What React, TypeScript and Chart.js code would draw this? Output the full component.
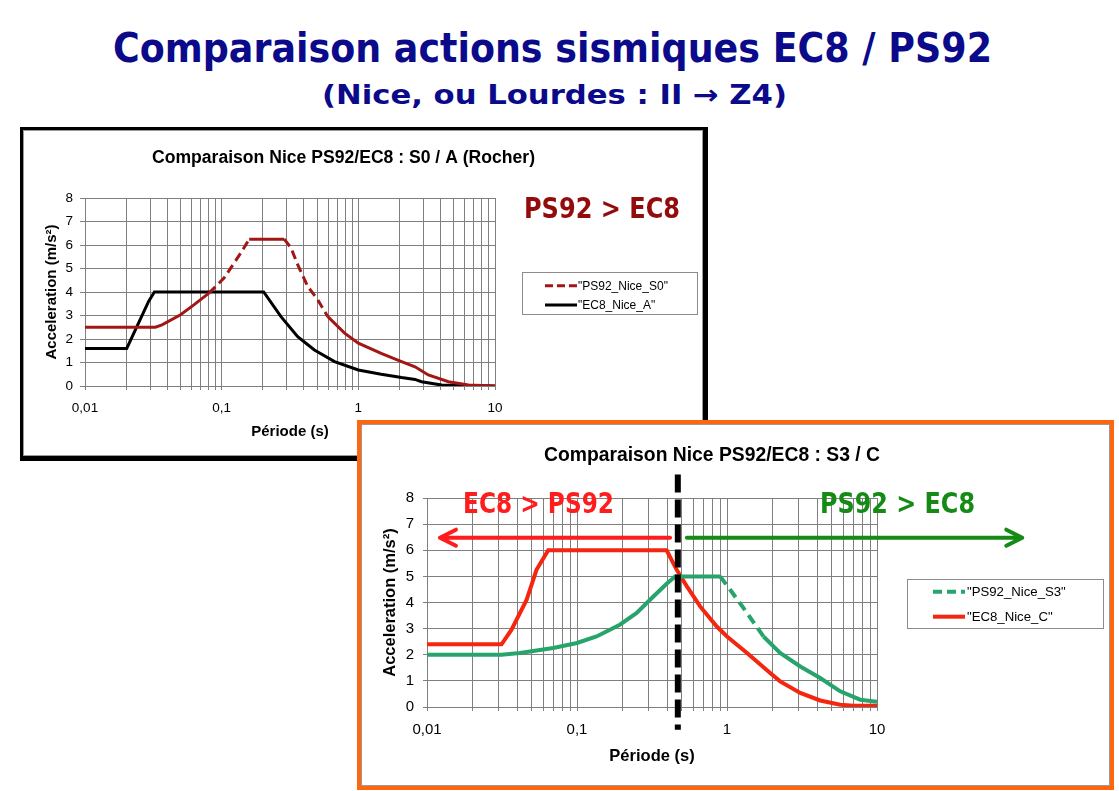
import React, { useEffect, useRef } from 'react';
import { Chart, registerables } from 'chart.js';

Chart.register(...registerables);

// ---------- shared axis data ----------
const xDecades = [0.01, 0.1, 1, 10];
const xTickLabels = ['0,01', '0,1', '1', '10'];
const xMinorSteps = [2, 3, 4, 5, 6, 7, 8, 9];
const yTickValues = [0, 1, 2, 3, 4, 5, 6, 7, 8];
const xAxisTitle = 'Période (s)';
const yAxisTitle = 'Acceleration (m/s²)';

const pageTitle = 'Comparaison actions sismiques EC8 / PS92';
const pageSubtitle = '(Nice, ou Lourdes : II → Z4)';

// ---------- chart 1 : S0 / A ----------
const chart1Title = 'Comparaison Nice PS92/EC8 : S0 / A (Rocher)';
const chart1Labels = ['"PS92_Nice_S0"', '"EC8_Nice_A"'];
const chart1Note = 'PS92 > EC8';
const ps92S0Period = [0.01, 0.0327, 0.0366, 0.05, 0.0626, 0.0807, 0.104, 0.138, 0.159, 0.287, 0.322, 0.36, 0.427, 0.505, 0.598, 0.793, 1.0, 1.47, 2.07, 2.6, 3.25, 4.57, 6.4, 10];
const ps92S0Accel = [2.5, 2.5, 2.6, 3.03, 3.45, 3.95, 4.59, 5.66, 6.25, 6.25, 5.87, 5.16, 4.23, 3.67, 2.95, 2.25, 1.82, 1.39, 1.04, 0.82, 0.47, 0.18, 0.04, 0];
const ec8APeriod = [0.01, 0.0202, 0.0292, 0.0322, 0.203, 0.2716, 0.36, 0.477, 0.67, 1.0, 1.47, 2.07, 2.6, 2.9, 4.07, 10];
const ec8AAccel = [1.6, 1.6, 3.6, 4.0, 4.0, 2.95, 2.1, 1.53, 1.04, 0.68, 0.5, 0.36, 0.28, 0.18, 0.04, 0];

// ---------- chart 2 : S3 / C ----------
const chart2Title = 'Comparaison Nice PS92/EC8 : S3 / C';
const chart2Labels = ['"PS92_Nice_S3"', '"EC8_Nice_C"'];
const chart2NoteLeft = 'EC8 > PS92';
const chart2NoteRight = 'PS92 > EC8';
const ps92S3Period = [0.01, 0.0314, 0.0416, 0.0694, 0.1, 0.135, 0.193, 0.25, 0.323, 0.396, 0.451, 0.9, 1.05, 1.36, 1.75, 2.26, 3.08, 4.18, 5.69, 7.73, 10];
const ps92S3Accel = [2.0, 2.0, 2.07, 2.26, 2.45, 2.7, 3.15, 3.6, 4.23, 4.72, 5.0, 5.0, 4.49, 3.6, 2.7, 2.07, 1.55, 1.11, 0.6, 0.28, 0.2];
const ec8CPeriod = [0.01, 0.0314, 0.0366, 0.0461, 0.0537, 0.0643, 0.396, 0.462, 0.54, 0.662, 0.855, 1.0, 1.36, 1.94, 2.26, 3.08, 4.18, 5.69, 7.0, 10];
const ec8CAccel = [2.4, 2.4, 2.96, 4.1, 5.25, 6.0, 6.0, 5.25, 4.62, 3.85, 3.08, 2.7, 2.07, 1.3, 0.98, 0.54, 0.25, 0.09, 0.05, 0.05];
const boundaryPeriod = 0.47;
const arrowLevel = 6.48;
const redArrowPeriods = [0.417, 0.0122];
const greenArrowPeriods = [0.54, 93];

const FONT = '"Liberation Sans", Arial, sans-serif';
const NOTE_FONT = '"DejaVu Sans", sans-serif';

const gridValues = xDecades.flatMap((d, i) =>
  i === xDecades.length - 1 ? [d] : [d, ...xMinorSteps.map((m) => Number((d * m).toPrecision(4)))]
);

function labelFor(v: number) {
  const i = xDecades.findIndex((d) => Math.abs(d - v) < d * 1e-6);
  return i >= 0 ? xTickLabels[i] : '';
}

function toPoints(xs: number[], ys: number[]) {
  return xs.map((x, i) => ({ x, y: ys[i] }));
}

function inRanges(v: number, ranges: number[][]) {
  return ranges.some(([a, b]) => v >= a && v < b);
}

function fitText(ctx: CanvasRenderingContext2D, text: string, x: number, y: number, width: number, font: string, color: string) {
  ctx.save();
  ctx.font = font;
  ctx.fillStyle = color;
  ctx.textAlign = 'left';
  ctx.textBaseline = 'alphabetic';
  const w = ctx.measureText(text).width;
  ctx.translate(x, y);
  ctx.scale(width / w, 1);
  ctx.fillText(text, 0, 0);
  ctx.restore();
}

const decorPlugin = {
  id: 'decor',
  afterDatasetsDraw(chart: any, _a: any, opts: any) {
    const ctx = chart.ctx as CanvasRenderingContext2D;
    const xs = chart.scales.x;
    const ys = chart.scales.y;
    if (opts.vline) {
      const v = opts.vline;
      const x = xs.getPixelForValue(v.x);
      ctx.save();
      ctx.strokeStyle = v.color;
      ctx.lineWidth = v.width;
      ctx.setLineDash(v.dash);
      ctx.beginPath();
      ctx.moveTo(x, ys.getPixelForValue(v.yFrom));
      ctx.lineTo(x, ys.getPixelForValue(v.yTo));
      ctx.stroke();
      ctx.restore();
    }
    (opts.arrows || []).forEach((a: any) => {
      const x1 = xs.getPixelForValue(a.from);
      const x2 = xs.getPixelForValue(a.to);
      const y = ys.getPixelForValue(a.level);
      const dir = Math.sign(x2 - x1);
      ctx.save();
      ctx.strokeStyle = a.color;
      ctx.lineWidth = a.width;
      ctx.lineCap = 'round';
      ctx.lineJoin = 'round';
      ctx.beginPath();
      ctx.moveTo(x1, y);
      ctx.lineTo(x2, y);
      ctx.moveTo(x2 - dir * a.head, y - a.spread);
      ctx.lineTo(x2, y);
      ctx.lineTo(x2 - dir * a.head, y + a.spread);
      ctx.stroke();
      ctx.restore();
    });
  },
  afterDraw(chart: any, _a: any, opts: any) {
    const ctx = chart.ctx as CanvasRenderingContext2D;
    const t = opts.title;
    fitText(ctx, t.text, t.x, t.y, t.w, `bold ${t.size}px ${FONT}`, '#000');
    (opts.notes || []).forEach((n: any) => {
      fitText(ctx, n.text, n.x, n.y, n.w, `bold ${n.size}px ${NOTE_FONT}`, n.color);
    });
    const lg = opts.legend;
    ctx.save();
    ctx.strokeStyle = '#8c8c8c';
    ctx.lineWidth = 1;
    ctx.strokeRect(lg.x + 0.5, lg.y + 0.5, lg.w, lg.h);
    chart.data.datasets.forEach((ds: any, i: number) => {
      const y = lg.rows[i];
      ctx.save();
      ctx.strokeStyle = ds.borderColor;
      ctx.lineWidth = ds.borderWidth;
      ctx.setLineDash(ds.legendDash || []);
      ctx.beginPath();
      ctx.moveTo(lg.lineX0, y);
      ctx.lineTo(lg.lineX1, y);
      ctx.stroke();
      ctx.restore();
      ctx.font = `${lg.size}px ${FONT}`;
      ctx.fillStyle = '#000';
      ctx.textAlign = 'left';
      ctx.textBaseline = 'middle';
      ctx.fillText(ds.label, lg.textX, y + 1);
    });
    ctx.restore();
  },
};

function buildConfig(s: any) {
  const gridColor = '#7f7f7f';
  return {
    type: 'line',
    data: { datasets: s.datasets },
    plugins: [decorPlugin],
    options: {
      animation: false,
      responsive: false,
      layout: { padding: s.padding },
      elements: { point: { radius: 0 }, line: { tension: 0 } },
      plugins: {
        legend: { display: false },
        title: { display: false },
        tooltip: { enabled: false },
        decor: s.decor,
      },
      scales: {
        x: {
          type: 'logarithmic',
          min: xDecades[0],
          max: xDecades[xDecades.length - 1],
          afterBuildTicks: (sc: any) => {
            sc.ticks = gridValues.map((v) => ({ value: v }));
          },
          afterFit: (sc: any) => {
            sc.height = s.xAxisHeight;
          },
          ticks: {
            autoSkip: false,
            maxRotation: 0,
            minRotation: 0,
            padding: s.xTickPad,
            color: '#000',
            font: { family: FONT, size: s.tickSize },
            callback: (v: number) => labelFor(v),
          },
          grid: { color: gridColor, lineWidth: 1, tickLength: 4, drawTicks: true },
          border: { color: gridColor },
          title: {
            display: true,
            text: xAxisTitle,
            color: '#000',
            font: { family: FONT, size: s.axisTitleSize, weight: 'bold' },
            padding: { top: 0, bottom: s.xTitlePad },
          },
        },
        y: {
          type: 'linear',
          min: yTickValues[0],
          max: yTickValues[yTickValues.length - 1],
          afterBuildTicks: (sc: any) => {
            sc.ticks = yTickValues.map((v) => ({ value: v }));
          },
          afterFit: (sc: any) => {
            sc.width = s.yAxisWidth;
          },
          ticks: {
            padding: s.yTickPad,
            color: '#000',
            font: { family: FONT, size: s.tickSize },
            callback: (v: number) => String(v),
          },
          grid: { color: gridColor, lineWidth: 1, tickLength: s.yTickLen, drawTicks: true },
          border: { color: gridColor },
          title: {
            display: true,
            text: yAxisTitle,
            color: '#000',
            font: { family: FONT, size: s.axisTitleSize, weight: 'bold' },
            padding: { top: s.yTitlePad, bottom: 0 },
          },
        },
      },
    },
  };
}

const chart1Config = () =>
  buildConfig({
    padding: { top: 67, left: 0, right: 207, bottom: 0 },
    xAxisHeight: 69,
    yAxisWidth: 61,
    xTickPad: 10,
    yTickPad: 7,
    yTickLen: 5,
    tickSize: 13.5,
    axisTitleSize: 15,
    xTitlePad: 14,
    yTitlePad: 19,
    datasets: [
      {
        label: chart1Labels[0],
        data: toPoints(ps92S0Period, ps92S0Accel),
        borderColor: '#a31616',
        borderWidth: 3,
        legendDash: [8, 4],
        segment: {
          borderDash: (c: any) => (inRanges(c.p0.parsed.x, [[0.08, 0.159], [0.287, 0.598]]) ? [9, 5] : undefined),
        },
      },
      {
        label: chart1Labels[1],
        data: toPoints(ec8APeriod, ec8AAccel),
        borderColor: '#000000',
        borderWidth: 3,
      },
    ],
    decor: {
      title: { text: chart1Title, x: 128, y: 32, w: 383, size: 17.5 },
      notes: [{ text: chart1Note, x: 500, y: 87, w: 156, size: 29, color: '#930b0b' }],
      legend: { x: 498, y: 141, w: 175, h: 42, lineX0: 521, lineX1: 553, textX: 554, rows: [154.7, 174], size: 12 },
    },
  });

const chart2Config = () =>
  buildConfig({
    padding: { top: 73, left: 0, right: 232, bottom: 0 },
    xAxisHeight: 78,
    yAxisWidth: 65,
    xTickPad: 10,
    yTickPad: 9,
    yTickLen: 4,
    tickSize: 15,
    axisTitleSize: 16.5,
    xTitlePad: 19,
    yTitlePad: 19,
    datasets: [
      {
        label: chart2Labels[0],
        data: toPoints(ps92S3Period, ps92S3Accel),
        borderColor: '#27a46c',
        borderWidth: 4,
        legendDash: [9, 5],
        segment: {
          borderDash: (c: any) => (inRanges(c.p0.parsed.x, [[0.9, 1.75]]) ? [10, 6] : undefined),
        },
      },
      {
        label: chart2Labels[1],
        data: toPoints(ec8CPeriod, ec8CAccel),
        borderColor: '#f5260f',
        borderWidth: 4,
      },
    ],
    decor: {
      title: { text: chart2Title, x: 182, y: 36, w: 336, size: 19.3 },
      notes: [
        { text: chart2NoteLeft, x: 101, y: 88, w: 151, size: 29, color: '#ff1c1c' },
        { text: chart2NoteRight, x: 458, y: 88, w: 155, size: 29, color: '#158a15' },
      ],
      legend: { x: 545, y: 154, w: 196, h: 49, lineX0: 571, lineX1: 603, textX: 605, rows: [166.7, 191.7], size: 13.2 },
      vline: { x: boundaryPeriod, yFrom: 8.9, yTo: -0.87, width: 6, dash: [18, 7], color: '#000' },
      arrows: [
        { from: redArrowPeriods[0], to: redArrowPeriods[1], level: arrowLevel, color: '#ff1c1c', width: 4, head: 16, spread: 8 },
        { from: greenArrowPeriods[0], to: greenArrowPeriods[1], level: arrowLevel, color: '#158a15', width: 4, head: 16, spread: 8 },
      ],
    },
  });

function ChartCanvas({ make, width, height }: { make: () => any; width: number; height: number }) {
  const ref = useRef<HTMLCanvasElement>(null);
  useEffect(() => {
    const chart = new Chart(ref.current as HTMLCanvasElement, make());
    return () => chart.destroy();
  }, []);
  return <canvas ref={ref} width={width} height={height} style={{ display: 'block', width, height }} />;
}

export default function App() {
  return (
    <div style={{ position: 'absolute', left: 0, top: 0, width: 1119, height: 791, background: '#fff', overflow: 'hidden' }}>
      <svg width={1119} height={120} style={{ position: 'absolute', left: 0, top: 0 }}>
        <text
          x={113}
          y={62}
          textLength={879}
          lengthAdjust="spacingAndGlyphs"
          fontFamily="DejaVu Sans, sans-serif"
          fontWeight="bold"
          fontSize={41}
          fill="#0a0a8a"
        >
          {pageTitle}
        </text>
        <text
          x={322}
          y={104}
          textLength={465}
          lengthAdjust="spacingAndGlyphs"
          fontFamily="DejaVu Sans, sans-serif"
          fontWeight="bold"
          fontSize={27}
          fill="#0a0a8a"
        >
          {pageSubtitle}
        </text>
      </svg>

      <div
        style={{
          position: 'absolute',
          left: 20,
          top: 127,
          width: 688,
          height: 334,
          boxSizing: 'border-box',
          borderStyle: 'solid',
          borderColor: '#000',
          borderWidth: '3px 5px 5px 3px',
          background: '#fff',
        }}
      >
        <div style={{ border: '1px solid #9a9a9a', width: 678, height: 324 }}>
          <ChartCanvas make={chart1Config} width={678} height={324} />
        </div>
      </div>

      <div
        style={{
          position: 'absolute',
          left: 357,
          top: 420,
          width: 757,
          height: 370,
          boxSizing: 'border-box',
          border: '4px solid #ff660e',
          background: '#fff',
        }}
      >
        <div style={{ border: '1px solid #9a9a9a', width: 747, height: 360 }}>
          <ChartCanvas make={chart2Config} width={747} height={360} />
        </div>
      </div>
    </div>
  );
}
